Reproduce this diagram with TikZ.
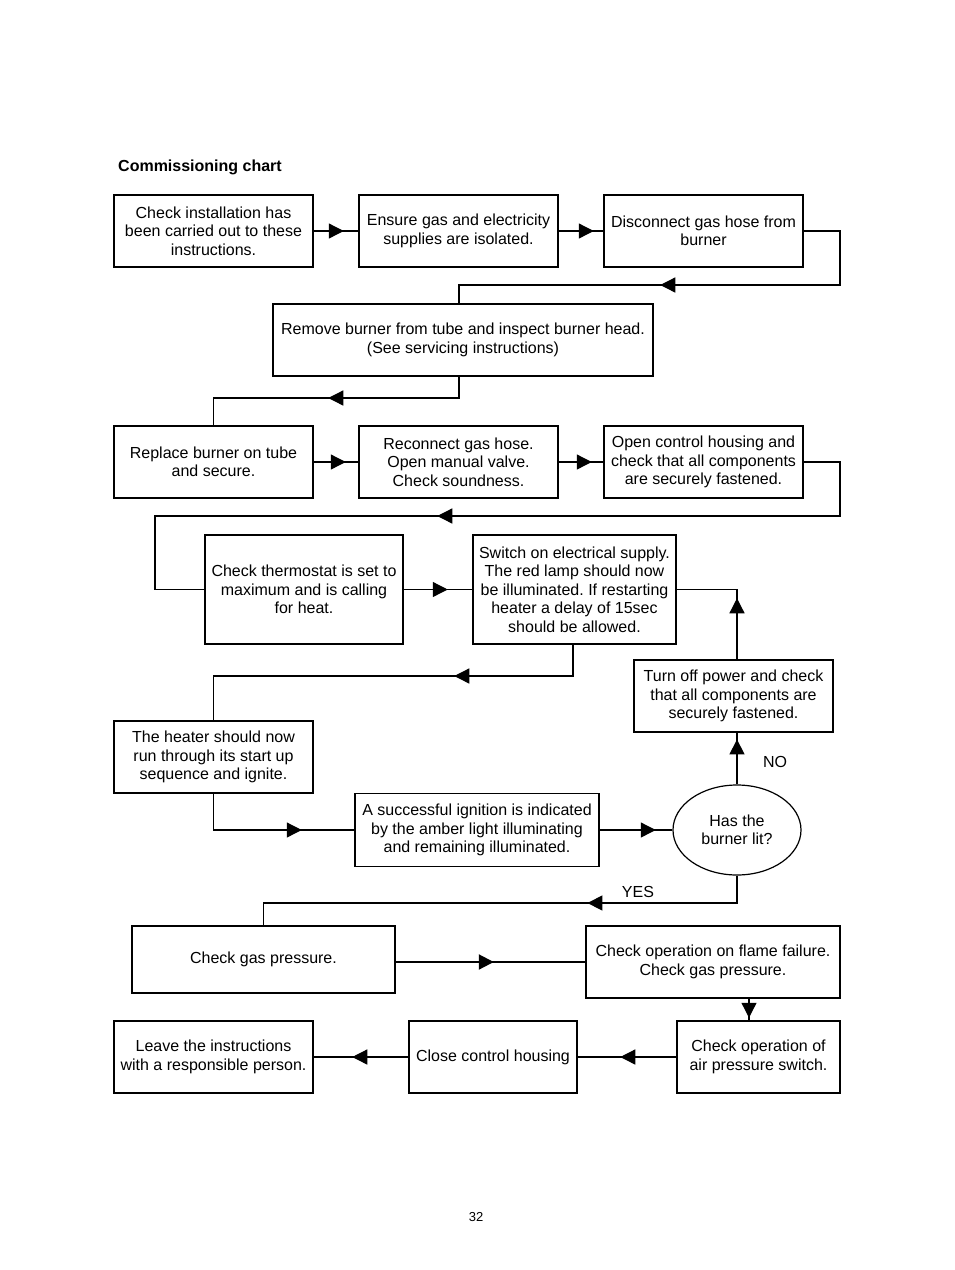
\documentclass[tikz,border=0pt]{standalone}
\usepackage{fontspec}
\setmainfont{Liberation Sans}
\frenchspacing
\usetikzlibrary{arrows.meta,decorations.markings,shapes.geometric}
\begin{document}
\begin{tikzpicture}[x=1pt,y=-1pt,
  >={Triangle[length=15pt,width=15pt]},
  box/.style={draw,line width=1.5pt,inner sep=0pt,align=center,font=\fontsize{16}{18.5}\selectfont\frenchspacing},
  conn/.style={line width=1.3pt},
  thickconn/.style={line width=2.2pt},
  arrowat/.style={postaction={decorate},decoration={markings,mark=at position #1 with {\arrow{>}}}},
  lbl/.style={font=\fontsize{16}{18.5}\selectfont,inner sep=0pt}]
\useasboundingbox (0,0) rectangle (954,1270);

\node[anchor=west,font=\fontsize{16}{19}\selectfont\bfseries,inner sep=0pt] (title) at (118,167.5) {Commissioning chart};

\node[box,minimum width=199pt,minimum height=72pt] (b1) at (213.5,231) {Check installation has\\been carried out to these\\instructions.};
\node[box,minimum width=199pt,minimum height=72pt] (b2) at (458.5,231) {Ensure gas and electricity\\supplies are isolated.};
\node[box,minimum width=199pt,minimum height=72pt] (b3) at (703.5,231) {Disconnect gas hose from\\burner};
\node[box,minimum width=380pt,minimum height=72pt] (b4) at (463,340) {Remove burner from tube and inspect burner head.\\(See servicing instructions)};
\node[box,minimum width=199pt,minimum height=72pt] (b5) at (213.5,462) {Replace burner on tube\\and secure.};
\node[box,minimum width=199pt,minimum height=72pt] (b6) at (458.5,462) {Reconnect gas hose.\\Open manual valve.\\Check soundness.};
\node[box,minimum width=199pt,minimum height=72pt] (b7) at (703.5,462) {Open control housing and\\check that all components\\are securely fastened.};
\node[box,minimum width=198pt,minimum height=109pt] (b8) at (304,589.5) {Check thermostat is set to\\maximum and is calling\\for heat.};
\node[box,minimum width=203pt,minimum height=109pt] (b9) at (574.5,589.5) {Switch on electrical supply.\\The red lamp should now\\be illuminated. If restarting\\heater a delay of 15sec\\should be allowed.};
\node[box,minimum width=199pt,minimum height=72pt] (b13) at (733.5,696) {Turn off power and check\\that all components are\\securely fastened.};
\node[box,minimum width=199pt,minimum height=72pt] (b10) at (213.5,757) {The heater should now\\run through its start up\\sequence and ignite.};
\node[box,minimum width=244pt,minimum height=73pt] (b11) at (477,830) {A successful ignition is indicated\\by the amber light illuminating\\and remaining illuminated.};
\node[draw,ellipse,line width=1.2pt,minimum width=128pt,minimum height=90pt,inner sep=0pt,align=center,font=\fontsize{16}{18.5}\selectfont] (ell) at (737,830) {Has the\\burner lit?};
\node[box,minimum width=263pt,minimum height=67pt] (b14) at (263.5,959.5) {Check gas pressure.};
\node[box,minimum width=254pt,minimum height=72pt] (b15) at (713,962) {Check operation on flame failure.\\Check gas pressure.};
\node[box,minimum width=163pt,minimum height=72pt] (b16) at (758.5,1057) {Check operation of\\air pressure switch.};
\node[box,minimum width=168pt,minimum height=72pt] (b17) at (493,1057) {Close control housing};
\node[box,minimum width=199pt,minimum height=72pt] (b18) at (213.5,1057) {Leave the instructions\\with a responsible person.};

\node[lbl] (no) at (775,762) {NO};
\node[lbl] (yes) at (638,892) {YES};
\node[font=\fontsize{13}{15}\selectfont,inner sep=0pt] (pg) at (476,1217) {32};

% bend points
\coordinate (k3a) at (840,231);
\coordinate (k3b) at (840,285);
\coordinate (k3c) at (459,285);
\coordinate (k4a) at (459,398);
\coordinate (k4b) at (213.5,398);
\coordinate (k7a) at (840,462);
\coordinate (k7b) at (840,516);
\coordinate (k7c) at (155,516);
\coordinate (k7d) at (155,589.5);
\coordinate (k9a) at (573,676);
\coordinate (k9b) at (213.5,676);
\coordinate (k10) at (213.5,830);
\coordinate (k13) at (737,589.5);
\coordinate (k12a) at (737,903);
\coordinate (k12b) at (263.5,903);
\coordinate (k15) at (749,1010);

\draw[conn,arrowat=30pt] (b1.east) -- (b2.west);
\draw[conn,arrowat=35pt] (b2.east) -- (b3.west);
\draw[conn,arrowat=270pt] (b3.east) -- (k3a) -- (k3b) -- (k3c) -- (b4.north -| k3c);
\draw[conn,arrowat=152pt] (b4.south -| k4a) -- (k4a) -- (k4b) -- (b5.north);
\draw[conn,arrowat=32pt] (b5.east) -- (b6.west);
\draw[conn,arrowat=33pt] (b6.east) -- (b7.west);
\draw[conn,arrowat=493pt] (b7.east) -- (k7a) -- (k7b) -- (k7c) -- (k7d) -- (b8.west);
\draw[conn,arrowat=44pt] (b8.east) -- (b9.west);
\draw[conn,arrowat=150pt] (b9.south -| k9a) -- (k9a) -- (k9b) -- (b10.north);
\draw[conn,arrowat=124.5pt] (b10.south) -- (k10) -- (b11.west);
\draw[conn,arrowat=56pt] (b11.east) -- (ell.west);
\draw[conn,arrowat=45pt] (ell.north) -- (ell.north |- b13.south);
\draw[conn,arrowat=61pt] (b13.north -| ell.north) -- (k13) -- (b9.east);
\draw[conn,arrowat=177pt] (ell.south) -- (k12a) -- (k12b) -- (b14.north);
\draw[thickconn] (k12a) -- (k12b);
\draw[thickconn,arrowat=98pt] (b14.east |- b15.west) -- (b15.west);
\draw[conn,arrowat=19pt] (b15.south -| k15) -- (b16.north -| k15);
\draw[conn,arrowat=56pt] (b16.west) -- (b17.east);
\draw[conn,arrowat=56pt] (b17.west) -- (b18.east);
\end{tikzpicture}
\end{document}
